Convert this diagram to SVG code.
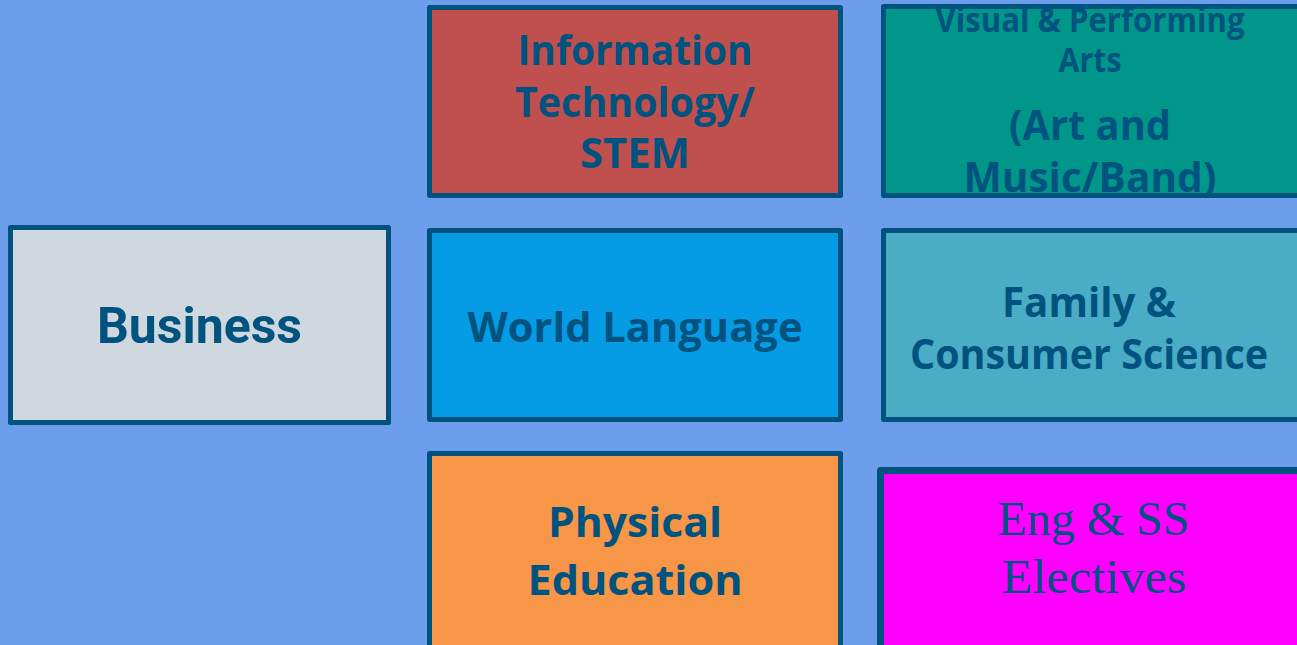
<svg xmlns="http://www.w3.org/2000/svg" width="1297" height="645" viewBox="0 0 1297 645">
<style>
.box{stroke:#00527f;stroke-width:5;stroke-linejoin:round}
.t{font-family:"Open Sans","Noto Sans",sans-serif;font-weight:bold;fill:#00527f;text-anchor:middle}
.r{font-family:Roboto,"Liberation Sans",sans-serif;font-weight:bold;fill:#00527f;text-anchor:middle}
.s{font-family:"Liberation Serif","DejaVu Serif",serif;fill:#00527f;text-anchor:middle}
</style>
<rect width="1297" height="645" fill="#6d9eeb"/>
<g id="connectors"></g>
<g id="it">
<rect class="box" x="429.5" y="7.5" width="411" height="188" fill="#c0504d"/>
<text class="t" x="635" y="65" font-size="42" textLength="235" lengthAdjust="spacingAndGlyphs">Information</text>
<text class="t" x="635" y="117" font-size="42" textLength="240" lengthAdjust="spacingAndGlyphs">Technology/</text>
<text class="t" x="635" y="168" font-size="42" textLength="110" lengthAdjust="spacingAndGlyphs">STEM</text>
</g>
<g id="arts">
<rect class="box" x="883.5" y="6.5" width="418" height="189" fill="#00968a"/>
<text class="t" x="1090" y="32" font-size="34" textLength="309" lengthAdjust="spacingAndGlyphs">Visual &amp; Performing</text>
<text class="t" x="1090" y="72" font-size="34" textLength="63" lengthAdjust="spacingAndGlyphs">Arts</text>
<text class="t" x="1090" y="140" font-size="42" textLength="162" lengthAdjust="spacingAndGlyphs">(Art and</text>
<text class="t" x="1090" y="192" font-size="42" textLength="253" lengthAdjust="spacingAndGlyphs">Music/Band)</text>
</g>
<g id="business">
<rect class="box" x="10.5" y="227.5" width="378" height="195" fill="#d0d8df"/>
<text class="r" x="199.5" y="343" font-size="50" textLength="205" lengthAdjust="spacingAndGlyphs">Business</text>
</g>
<g id="world">
<rect class="box" x="429.5" y="230.5" width="411" height="189" fill="#059be5"/>
<text class="t" x="635" y="342" font-size="42" textLength="335" lengthAdjust="spacingAndGlyphs">World Language</text>
</g>
<g id="family">
<rect class="box" x="883.5" y="230.5" width="418" height="189" fill="#4bacc6"/>
<text class="t" x="1089" y="317" font-size="42" textLength="174" lengthAdjust="spacingAndGlyphs">Family &amp;</text>
<text class="t" x="1089" y="369" font-size="42" textLength="358" lengthAdjust="spacingAndGlyphs">Consumer Science</text>
</g>
<g id="pe">
<rect class="box" x="429.5" y="453.5" width="411" height="200" fill="#f79646"/>
<text class="t" x="635" y="537" font-size="42" textLength="174" lengthAdjust="spacingAndGlyphs">Physical</text>
<text class="t" x="635" y="595" font-size="42" textLength="215" lengthAdjust="spacingAndGlyphs">Education</text>
</g>
<g id="eng">
<rect x="880.5" y="470.5" width="425" height="185" fill="#ff00ff" stroke="#00527f" stroke-width="7" stroke-linejoin="round"/>
<text class="s" x="1094" y="535" font-size="49" textLength="192" lengthAdjust="spacingAndGlyphs">Eng &amp; SS</text>
<text class="s" x="1094.5" y="593" font-size="49" textLength="185" lengthAdjust="spacingAndGlyphs">Electives</text>
</g>
</svg>
